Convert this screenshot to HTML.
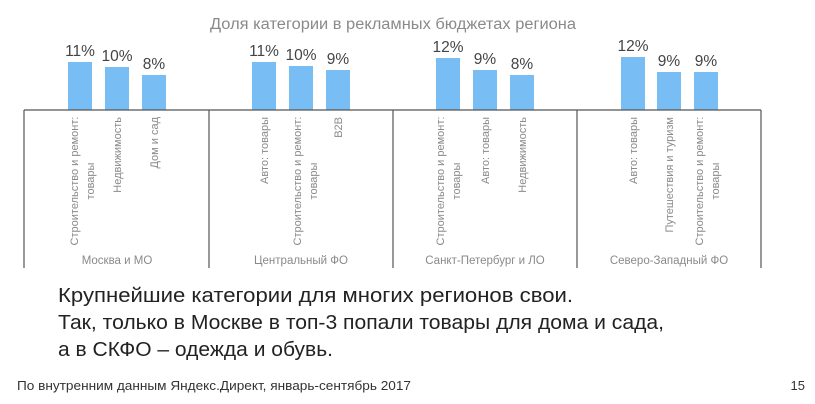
<!DOCTYPE html>
<html><head><meta charset="utf-8"><style>
html,body{margin:0;padding:0;background:#fff;width:815px;height:404px;overflow:hidden}
svg{display:block}
text{font-family:"Liberation Sans",sans-serif}
.p{font-size:15.5px;fill:#444;text-anchor:middle}
.r{font-size:11px;fill:#8a8a8a}
.g{font-size:11.5px;fill:#8a8a8a;text-anchor:middle}
</style></head><body>
<svg width="815" height="404" viewBox="0 0 815 404">
<text x="393" y="29" font-size="15.5" fill="#8a8a8a" text-anchor="middle" textLength="366" lengthAdjust="spacingAndGlyphs">Доля категории в рекламных бюджетах региона</text>
<g fill="#78bdf3">
<rect x="68" y="62" width="24" height="48"/><rect x="105" y="67" width="24" height="43"/><rect x="142" y="75" width="24" height="35"/>
<rect x="252" y="62" width="24" height="48"/><rect x="289" y="66" width="24" height="44"/><rect x="326" y="70" width="24" height="40"/>
<rect x="436" y="58" width="24" height="52"/><rect x="473" y="70" width="24" height="40"/><rect x="510" y="75" width="24" height="35"/>
<rect x="621" y="57" width="24" height="53"/><rect x="657" y="72" width="24" height="38"/><rect x="694" y="72" width="24" height="38"/>
</g>
<g class="p">
<text x="80" y="56" class="p">11%</text><text x="117" y="61" class="p">10%</text><text x="154" y="69" class="p">8%</text>
<text x="264" y="56" class="p">11%</text><text x="301" y="60" class="p">10%</text><text x="338" y="64" class="p">9%</text>
<text x="448" y="52" class="p">12%</text><text x="485" y="64" class="p">9%</text><text x="522" y="69" class="p">8%</text>
<text x="633" y="51" class="p">12%</text><text x="669" y="66" class="p">9%</text><text x="706" y="66" class="p">9%</text>
</g>
<g stroke="#555" stroke-width="1.2">
<line x1="24" y1="110" x2="761" y2="110"/>
<line x1="24" y1="110" x2="24" y2="268"/><line x1="209" y1="110" x2="209" y2="268"/>
<line x1="393" y1="110" x2="393" y2="268"/><line x1="577" y1="110" x2="577" y2="268"/>
<line x1="761" y1="110" x2="761" y2="268"/>
</g>
<text class="r" transform="translate(78,181) rotate(-90)" text-anchor="middle">Строительство и ремонт:</text>
<text class="r" transform="translate(94,181) rotate(-90)" text-anchor="middle">товары</text>
<text class="r" transform="translate(121,117) rotate(-90)" text-anchor="end">Недвижимость</text>
<text class="r" transform="translate(158,117) rotate(-90)" text-anchor="end">Дом и сад</text>
<text class="r" transform="translate(268,117) rotate(-90)" text-anchor="end">Авто: товары</text>
<text class="r" transform="translate(301,181) rotate(-90)" text-anchor="middle">Строительство и ремонт:</text>
<text class="r" transform="translate(317,181) rotate(-90)" text-anchor="middle">товары</text>
<text class="r" transform="translate(342,117) rotate(-90)" text-anchor="end">B2B</text>
<text class="r" transform="translate(444,181) rotate(-90)" text-anchor="middle">Строительство и ремонт:</text>
<text class="r" transform="translate(460,181) rotate(-90)" text-anchor="middle">товары</text>
<text class="r" transform="translate(489,117) rotate(-90)" text-anchor="end">Авто: товары</text>
<text class="r" transform="translate(526,117) rotate(-90)" text-anchor="end">Недвижимость</text>
<text class="r" transform="translate(637,117) rotate(-90)" text-anchor="end">Авто: товары</text>
<text class="r" transform="translate(673,117) rotate(-90)" text-anchor="end">Путешествия и туризм</text>
<text class="r" transform="translate(703,181) rotate(-90)" text-anchor="middle">Строительство и ремонт:</text>
<text class="r" transform="translate(719,181) rotate(-90)" text-anchor="middle">товары</text>
<text x="117" y="264" class="g">Москва и МО</text>
<text x="301" y="264" class="g">Центральный ФО</text>
<text x="485" y="264" class="g">Санкт-Петербург и ЛО</text>
<text x="669" y="264" class="g">Северо-Западный ФО</text>
<g font-size="20.5" fill="#222">
<text x="58" y="302" textLength="515" lengthAdjust="spacingAndGlyphs">Крупнейшие категории для многих регионов свои.</text>
<text x="58" y="329" textLength="606" lengthAdjust="spacingAndGlyphs">Так, только в Москве в топ-3 попали товары для дома и сада,</text>
<text x="58" y="356" textLength="275" lengthAdjust="spacingAndGlyphs">а в СКФО – одежда и обувь.</text>
</g>
<text x="17" y="390" font-size="13" fill="#333" textLength="394" lengthAdjust="spacingAndGlyphs">По внутренним данным Яндекс.Директ, январь-сентябрь 2017</text>
<text x="805" y="390" font-size="13" fill="#333" text-anchor="end">15</text>
</svg>
</body></html>
